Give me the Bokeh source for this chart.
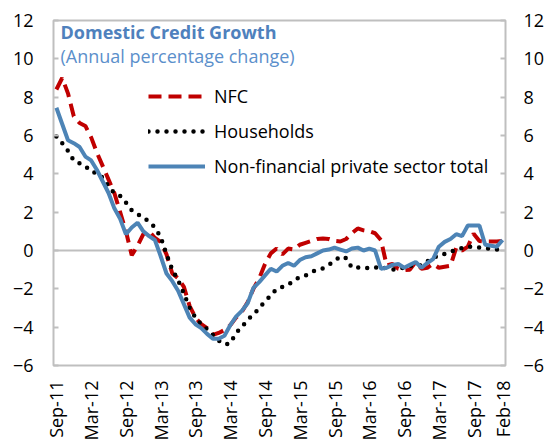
import math
import pandas as pd
from bokeh.plotting import figure
from bokeh.models import Range1d, LinearAxis, FixedTicker, Span, Label, Legend, LegendItem
from bokeh.embed import file_html
from bokeh.resources import INLINE

# ---- data ----
months = [d.strftime("%b-%y") for d in pd.date_range("2011-09-01", periods=78, freq="MS")]
tick_labels = ["Sep-11", "Mar-12", "Sep-12", "Mar-13", "Sep-13", "Mar-14", "Sep-14",
               "Mar-15", "Sep-15", "Mar-16", "Sep-16", "Mar-17", "Sep-17", "Feb-18"]

nfc = [8.4, 9.0, 8.2, 7.0, 6.65, 6.5, 5.9, 5.1, 4.4, 3.7,
       3.0, 2.0, 1.0, -0.25, 0.25, 0.85, 1.0, 0.65, 0.45, -0.2,
       -1.2, -1.45, -1.9, -2.9, -3.5, -3.85, -4.05, -4.4, -4.3, -4.15,
       -3.9, -3.5, -3.2, -2.7, -2.0, -1.45, -0.7, -0.15, 0.1, -0.2,
       0.1, 0.05, 0.3, 0.4, 0.5, 0.6, 0.62, 0.6, 0.5, 0.47,
       0.6, 0.9, 1.15, 1.05, 1.0, 0.9, 0.55, -0.78, -0.7, -0.95,
       -1.03, -1.0, -0.6, -0.95, -0.9, -0.7, -0.9, -0.85, -0.8, 0.15,
       0.0, 0.2, 0.88, 0.5, 0.47, 0.47, 0.47, 0.5]

households = [5.95, 5.6, 5.2, 4.7, 4.55, 4.4, 4.1, 4.05, 3.8, 3.35,
              3.0, 2.85, 2.5, 2.1, 1.9, 1.72, 1.5, 1.2, 0.7, -0.2,
              -1.0, -1.55, -2.25, -3.0, -3.5, -3.85, -4.1, -4.4, -4.7, -4.9,
              -4.85, -4.3, -4.0, -3.6, -3.35, -3.0, -2.65, -2.35, -2.0, -1.9,
              -1.8, -1.55, -1.4, -1.3, -1.12, -1.0, -0.93, -0.75, -0.55, -0.31,
              -0.4, -0.9, -0.88, -0.9, -0.93, -0.9, -0.83, -0.95, -1.0, -0.95,
              -0.9, -0.8, -0.8, -0.75, -0.57, -0.4, -0.25, -0.18, -0.08, 0.05,
              0.12, 0.2, 0.18, 0.15, 0.12, 0.1, 0.05, 0.05]

total = [7.45, 6.6, 5.75, 5.6, 5.4, 4.9, 4.7, 4.2, 3.6, 3.0,
         2.2, 1.65, 0.85, 1.2, 1.45, 1.0, 0.75, 0.55, -0.3, -1.2,
         -1.6, -2.1, -2.8, -3.5, -3.85, -4.05, -4.35, -4.6, -4.6, -4.45,
         -3.9, -3.45, -3.15, -2.75, -1.95, -1.65, -1.3, -0.95, -1.1, -0.8,
         -0.65, -0.8, -0.5, -0.35, -0.3, -0.15, 0.0, 0.05, 0.15, 0.05,
         -0.05, 0.1, 0.15, 0.0, 0.1, 0.0, -0.95, -0.9, -0.75, -0.7,
         -0.9, -0.75, -0.6, -0.9, -0.65, -0.45, 0.2, 0.45, 0.6, 0.85,
         0.75, 1.3, 1.3, 1.3, 0.3, 0.25, 0.2, 0.55]

y_ticks = [-6, -4, -2, 0, 2, 4, 6, 8, 10, 12]

x = list(range(len(months)))
tick_pos = [months.index(t) for t in tick_labels]

FONT = "Open Sans"
GRAY = "#bfbfbf"
RED = "#C00000"
BLUE = "#4D84B6"
FS = "18px"

p = figure(width=547, height=443, output_backend="svg", toolbar_location=None,
           x_range=Range1d(-0.5, len(months) - 0.5), y_range=Range1d(-6, 12),
           min_border_left=53, min_border_right=40, min_border_top=20, min_border_bottom=75)
p.background_fill_color = "white"
p.border_fill_color = "white"
p.outline_line_color = GRAY
p.outline_line_width = 2
p.xgrid.visible = False
p.ygrid.visible = False

# x axis
xa = p.xaxis[0]
xa.ticker = FixedTicker(ticks=tick_pos)
xa.major_label_overrides = {pos: lab for pos, lab in zip(tick_pos, tick_labels)}
xa.major_label_orientation = math.pi / 2
xa.major_label_text_font = FONT
xa.major_label_text_font_size = FS
xa.major_label_text_color = "black"
xa.major_label_standoff = 9
xa.axis_line_color = None
xa.major_tick_line_color = None
xa.minor_tick_line_color = None

# left y axis
ya = p.yaxis[0]
ya.ticker = FixedTicker(ticks=y_ticks)
ya.major_label_text_font = FONT
ya.major_label_text_font_size = FS
ya.major_label_text_color = "black"
ya.major_label_standoff = 20
ya.axis_line_color = None
ya.major_tick_in = 5
ya.major_tick_out = 0
ya.major_tick_line_color = GRAY
ya.major_tick_line_width = 2
ya.minor_tick_line_color = None

# right y axis
p.extra_y_ranges = {"r": Range1d(-6, 12)}
ra = LinearAxis(y_range_name="r", ticker=FixedTicker(ticks=y_ticks))
ra.major_label_text_font = FONT
ra.major_label_text_font_size = FS
ra.major_label_text_color = "black"
ra.major_label_standoff = 18
ra.axis_line_color = None
ra.major_tick_in = 5
ra.major_tick_out = 0
ra.major_tick_line_color = GRAY
ra.major_tick_line_width = 2
ra.minor_tick_line_color = None
p.add_layout(ra, "right")

# zero line
p.add_layout(Span(location=0, dimension="width", line_color=GRAY, line_width=2, level="underlay"))

r_nfc = p.line(x, nfc, line_color=RED, line_width=4, line_dash="13 7")
r_hh = p.line(x, households, line_color="black", line_width=4.5, line_dash="0 9", line_cap="round")
r_tot = p.line(x, total, line_color=BLUE, line_width=4)

legend = Legend(items=[LegendItem(label="NFC", renderers=[r_nfc]),
                       LegendItem(label="Households", renderers=[r_hh]),
                       LegendItem(label="Non-financial private sector total", renderers=[r_tot])],
                location=(95, 187), orientation="vertical",
                glyph_width=57, glyph_height=20, label_height=20, spacing=11,
                label_standoff=9, padding=0, margin=0,
                border_line_color=None, background_fill_alpha=0,
                label_text_font=FONT, label_text_font_size=FS, label_text_color="black")
p.add_layout(legend)

p.add_layout(Label(x=7, y=334, x_units="screen", y_units="screen", text="Domestic Credit Growth",
                   text_font=FONT, text_font_style="bold", text_font_size=FS,
                   text_color="#4F81BD", text_baseline="alphabetic"))
p.add_layout(Label(x=7, y=310, x_units="screen", y_units="screen", text="(Annual percentage change)",
                   text_font=FONT, text_font_size=FS,
                   text_color="#5B8FCB", text_baseline="alphabetic"))

open("out.html", "w").write(file_html(p, INLINE))
